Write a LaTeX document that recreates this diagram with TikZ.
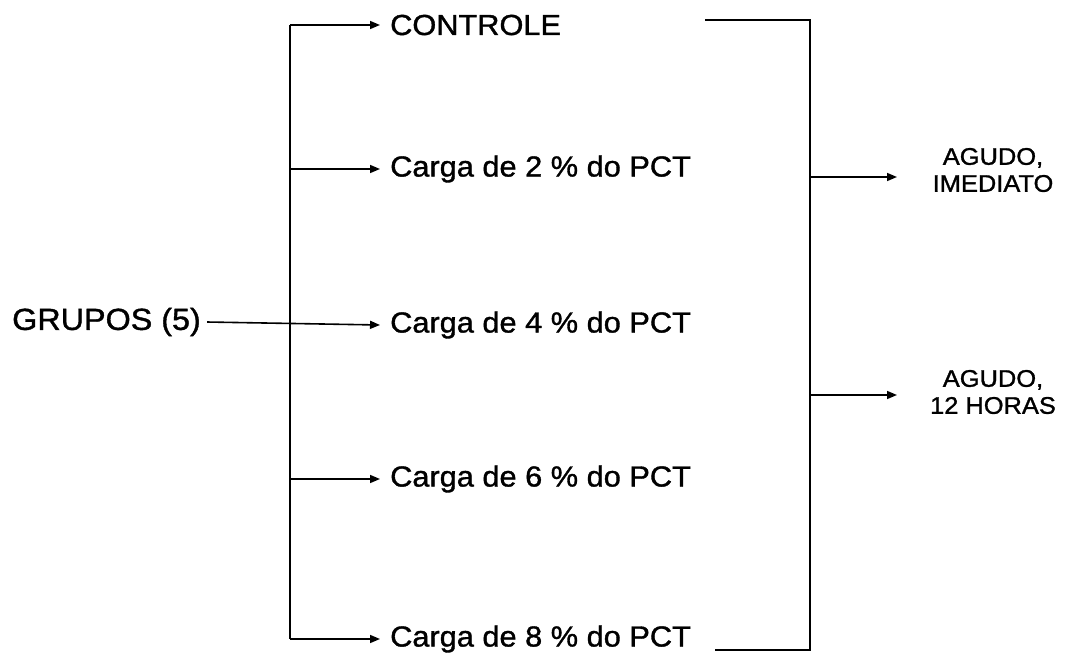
\documentclass[tikz,border=0pt]{standalone}
\usepackage{fontspec}
\setmainfont{Liberation Sans}[FakeStretch=1.06,FakeBold=1.2]
\usetikzlibrary{arrows.meta}
\begin{document}
\begin{tikzpicture}[x=1pt,y=-1pt,
  line/.style={line width=2pt},
  arr/.style={line width=1.6pt,-{Triangle[length=10pt,width=8pt]}},
  lbl/.style={anchor=west,inner sep=0pt,font=\fontsize{29}{32}\selectfont},
  outlbl/.style={align=center,inner sep=0pt,font=\fontsize{24}{27}\selectfont}]
\useasboundingbox (0,0) rectangle (1078,654);
\node[lbl,font=\fontsize{30.5}{32}\selectfont] (g) at (12,322) {GRUPOS (5)};
\node[lbl] (c0) at (390,25) {CONTROLE};
\node[lbl] (c2) at (390,169) {Carga de 2 \% do PCT};
\node[lbl] (c4) at (390,325) {Carga de 4 \% do PCT};
\node[lbl] (c6) at (390,479) {Carga de 6 \% do PCT};
\node[lbl] (c8) at (390,639) {Carga de 8 \% do PCT};
\node[outlbl] (o1) at (993,170) {AGUDO,\\IMEDIATO};
\node[outlbl] (o2) at (993,392) {AGUDO,\\12 HORAS};
% left bracket
\coordinate (lt) at (290,25);
\coordinate (lb) at (290,639);
\draw[line] (lt) -- (lb);
\draw[arr] ([xshift=6pt]g.east) -- ([xshift=-10pt]c4.west);
\foreach \n in {c0,c2,c6,c8}{
  \draw[arr] (lt |- \n.west) -- ([xshift=-10pt]\n.west);
}
% right bracket
\coordinate (rt1) at (705,20);
\coordinate (rt) at (810,20);
\coordinate (rb) at (810,650);
\coordinate (rb1) at (715,650);
\coordinate (a1s) at (810,177);
\coordinate (a1e) at (897,177);
\coordinate (a2s) at (810,395);
\coordinate (a2e) at (897,395);
\draw[line] (rt1) -- (rt) -- (rb) -- (rb1);
\draw[arr] (a1s) -- (a1e);
\draw[arr] (a2s) -- (a2e);
\end{tikzpicture}
\end{document}
